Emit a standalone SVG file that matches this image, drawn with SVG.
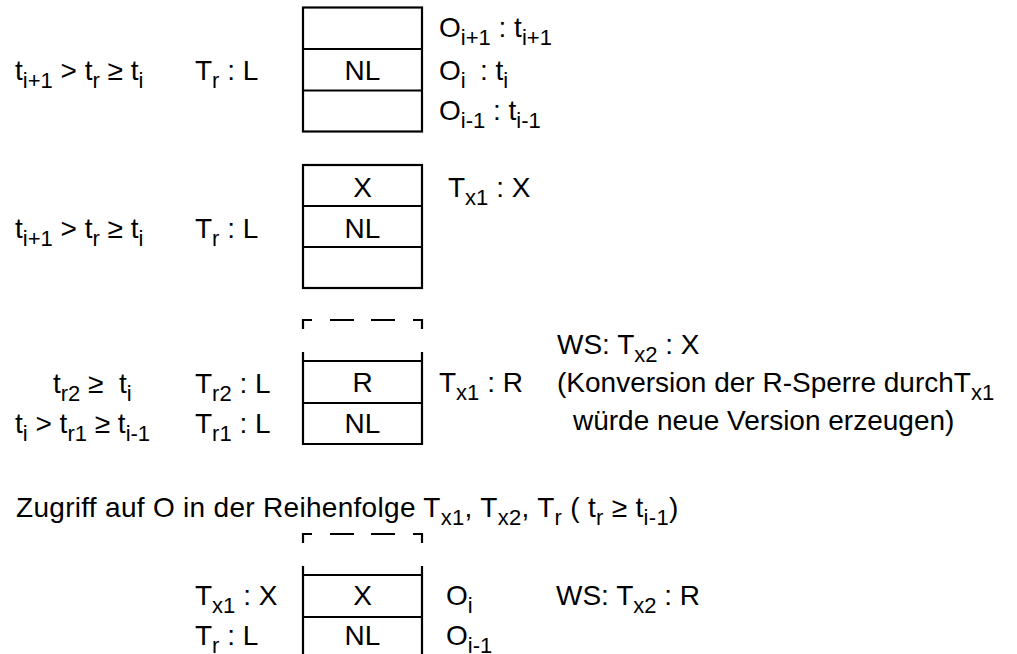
<svg xmlns="http://www.w3.org/2000/svg" width="1017" height="654" viewBox="0 0 1017 654">
<style>
.t{font-family:"Liberation Sans",Arial,Helvetica,sans-serif;font-size:28px;fill:#000}
.c{text-anchor:middle}
.s{font-size:22px}
.b{fill:none;stroke:#000;stroke-width:2.2}
</style>
<rect width="1017" height="654" fill="#fff"/>
<g id="connectors"/>

<g id="sec1">
<text class="t" x="15" y="80">t<tspan class="s" dy="8">i+1</tspan><tspan dy="-8"> &gt; t</tspan><tspan class="s" dy="8">r</tspan><tspan dy="-8"> ≥ t</tspan><tspan class="s" dy="8">i</tspan></text>
<text class="t" x="195" y="80">T<tspan class="s" dy="8">r</tspan><tspan dy="-8"> : L</tspan></text>
<g id="box1">
<rect class="b" x="303" y="7.5" width="119" height="124"/>
<path class="b" d="M303,49H422M303,90.5H422"/>
<text class="t c" x="362.5" y="80">NL</text>
</g>
<text class="t" x="439" y="37">O<tspan class="s" dy="8">i+1</tspan><tspan dy="-8"> : t</tspan><tspan class="s" dy="8">i+1</tspan></text>
<text class="t" x="439" y="80">O<tspan class="s" dy="8">i</tspan></text>
<text class="t" x="480" y="80">: t<tspan class="s" dy="8">i</tspan></text>
<text class="t" x="439" y="120">O<tspan class="s" dy="8">i-1</tspan><tspan dy="-8"> : t</tspan><tspan class="s" dy="8">i-1</tspan></text>
</g>

<g id="sec2">
<text class="t" x="15" y="238">t<tspan class="s" dy="8">i+1</tspan><tspan dy="-8"> &gt; t</tspan><tspan class="s" dy="8">r</tspan><tspan dy="-8"> ≥ t</tspan><tspan class="s" dy="8">i</tspan></text>
<text class="t" x="195" y="238">T<tspan class="s" dy="8">r</tspan><tspan dy="-8"> : L</tspan></text>
<g id="box2">
<rect class="b" x="303" y="165" width="119" height="123"/>
<path class="b" d="M303,206H422M303,247H422"/>
<text class="t c" x="362.5" y="197">X</text>
<text class="t c" x="362.5" y="238">NL</text>
</g>
<text class="t" x="448" y="197">T<tspan class="s" dy="8">x1</tspan><tspan dy="-8"> : X</tspan></text>
</g>

<g id="sec3">
<text class="t" x="53" y="393">t<tspan class="s" dy="8">r2</tspan><tspan dy="-8"> ≥&#160; t</tspan><tspan class="s" dy="8">i</tspan></text>
<text class="t" x="195" y="393">T<tspan class="s" dy="8">r2</tspan><tspan dy="-8"> : L</tspan></text>
<text class="t" x="15" y="433">t<tspan class="s" dy="8">i</tspan><tspan dy="-8"> &gt; t</tspan><tspan class="s" dy="8">r1</tspan><tspan dy="-8"> ≥ t</tspan><tspan class="s" dy="8">i-1</tspan></text>
<text class="t" x="195" y="433">T<tspan class="s" dy="8">r1</tspan><tspan dy="-8"> : L</tspan></text>
<g id="box3">
<path class="b" d="M303,329V320H312M330,320H354M371,320H395M413,320H422V329"/>
<path class="b" d="M303,352V444H422V352M303,361H422M303,403H422"/>
<text class="t c" x="362.5" y="392">R</text>
<text class="t c" x="362.5" y="433">NL</text>
</g>
<text class="t" x="439" y="392">T<tspan class="s" dy="8">x1</tspan><tspan dy="-8"> : R</tspan></text>
<text class="t" x="557" y="354">WS: T<tspan class="s" dy="8">x2</tspan><tspan dy="-8"> : X</tspan></text>
<text class="t" x="557" y="392">(Konversion der R-Sperre durchT<tspan class="s" dy="8">x1</tspan></text>
<text class="t" x="573" y="430">würde neue Version erzeugen)</text>
</g>

<g id="sec4">
<text class="t" x="16" y="517" letter-spacing="0.3">Zugriff auf O in der Reihenfolge T<tspan class="s" dy="8">x1</tspan><tspan dy="-8">, T</tspan><tspan class="s" dy="8">x2</tspan><tspan dy="-8">, T</tspan><tspan class="s" dy="8">r</tspan><tspan dy="-8"> ( t</tspan><tspan class="s" dy="8">r</tspan><tspan dy="-8"> ≥ t</tspan><tspan class="s" dy="8">i-1</tspan><tspan dy="-8">)</tspan></text>
<text class="t" x="195" y="605">T<tspan class="s" dy="8">x1</tspan><tspan dy="-8"> : X</tspan></text>
<text class="t" x="195" y="645">T<tspan class="s" dy="8">r</tspan><tspan dy="-8"> : L</tspan></text>
<g id="box4">
<path class="b" d="M303,543V534H312M330,534H354M371,534H395M413,534H422V543"/>
<path class="b" d="M303,566V660M422,566V660M303,575H422M303,617H422"/>
<text class="t c" x="362.5" y="605">X</text>
<text class="t c" x="362.5" y="645">NL</text>
</g>
<text class="t" x="446" y="605">O<tspan class="s" dy="8">i</tspan></text>
<text class="t" x="446" y="645">O<tspan class="s" dy="8">i-1</tspan></text>
<text class="t" x="556" y="605">WS: T<tspan class="s" dy="8">x2</tspan><tspan dy="-8"> : R</tspan></text>
</g>
</svg>
